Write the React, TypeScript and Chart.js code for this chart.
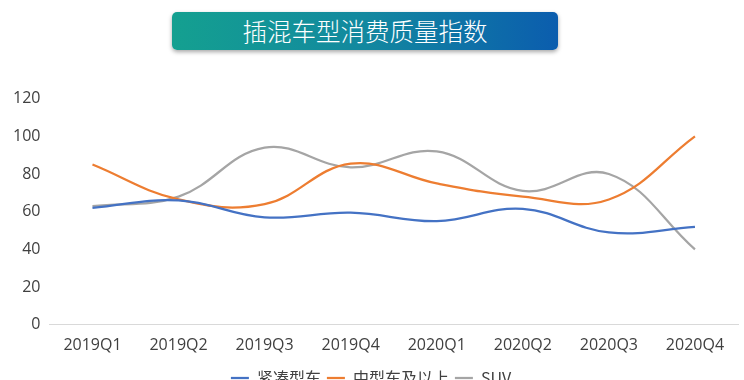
import React, { useEffect, useRef } from "react";
import { Chart, registerables } from "chart.js";

Chart.register(...registerables);

const categories = ["2019Q1", "2019Q2", "2019Q3", "2019Q4", "2020Q1", "2020Q2", "2020Q3", "2020Q4"];
const compactValues = [62, 66, 57, 59.5, 55, 61.5, 49, 52];
const midSizeValues = [85, 66.5, 64, 85.5, 75, 68, 66.5, 100];
const suvValues = [63, 68, 94, 83.5, 92, 71, 80, 40];
const seriesNames = ["紧凑型车", "中型车及以上", "SUV"];
const title = "插混车型消费质量指数";

const FONT = "'Noto Sans CJK SC', 'Open Sans', sans-serif";
const TICK_FONT = "'Open Sans', 'Noto Sans CJK SC', sans-serif";

export default function App() {
  const ref = useRef<HTMLCanvasElement | null>(null);

  useEffect(() => {
    if (!ref.current) return;
    const mk = (label: string, data: number[], color: string) => ({
      label,
      data,
      borderColor: color,
      backgroundColor: color,
      borderWidth: 2.25,
      pointRadius: 0,
      tension: 0.4,
      fill: false,
    });
    const chart = new Chart(ref.current, {
      type: "line",
      data: {
        labels: categories,
        datasets: [
          mk(seriesNames[0], compactValues, "#4472C4"),
          mk(seriesNames[1], midSizeValues, "#ED7D31"),
          mk(seriesNames[2], suvValues, "#A5A5A5"),
        ],
      },
      options: {
        animation: false,
        responsive: false,
        maintainAspectRatio: false,
        layout: { padding: { top: 6, left: 4, right: 6, bottom: 0 } },
        plugins: {
          title: { display: false },
          tooltip: { enabled: false },
          legend: {
            position: "bottom",
            labels: {
              usePointStyle: true,
              pointStyle: "line",
              pointStyleWidth: 18,
              padding: 6,
              color: "#404040",
              font: { family: FONT, size: 16 },
            },
          },
        },
        scales: {
          x: {
            offset: true,
            grid: { display: false, drawTicks: false },
            border: { display: true, color: "#D9D9D9", width: 1 },
            ticks: { color: "#404040", font: { family: TICK_FONT, size: 16 }, padding: 11 },
            afterFit: (scale: any) => {
              scale.height -= 2;
            },
          },
          y: {
            min: 0,
            max: 120,
            grid: { display: false, drawTicks: false },
            border: { display: false },
            ticks: { stepSize: 20, color: "#404040", font: { family: TICK_FONT, size: 16 }, padding: 9 },
          },
        },
      },
    });
    return () => chart.destroy();
  }, []);

  return (
    <div
      style={{
        position: "fixed",
        left: 0,
        top: 0,
        width: 744,
        height: 380,
        overflow: "hidden",
        background: "#fff",
      }}
    >
      <div
        style={{
          position: "absolute",
          left: 172,
          top: 12,
          width: 386,
          height: 38,
          borderRadius: 5,
          background: "linear-gradient(90deg, #14a090 0%, #12889f 50%, #0b5dae 100%)",
          boxShadow: "0 2px 4px rgba(0,0,0,0.35)",
          color: "#fff",
          fontFamily: FONT,
          fontWeight: 300,
          fontSize: 24.5,
          lineHeight: "38px",
          textAlign: "center",
        }}
      >
        {title}
      </div>
      <canvas
        ref={ref}
        width={744}
        height={316}
        style={{ position: "absolute", left: 0, top: 80, width: 744, height: 316 }}
      />
    </div>
  );
}
